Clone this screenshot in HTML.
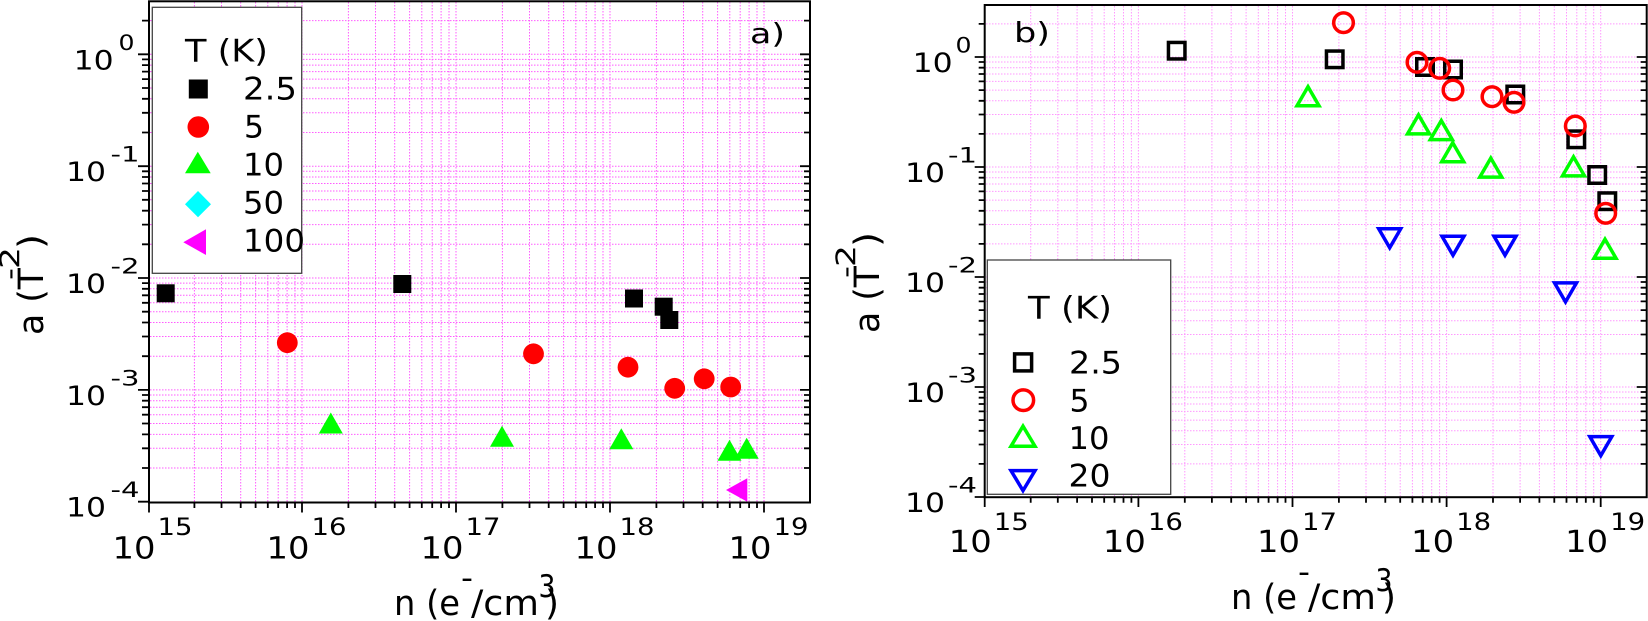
<!DOCTYPE html>
<html><head><meta charset="utf-8"><style>
html,body{margin:0;padding:0;background:#fff;}
svg{display:block;}
text{font-family:"DejaVu Sans","Liberation Sans",sans-serif;fill:#000;}
</style></head><body>
<svg width="1648" height="621" viewBox="0 0 1648 621" xmlns="http://www.w3.org/2000/svg">
<rect x="0" y="0" width="1648" height="621" fill="#fff"/>

<!-- LEFT GRID -->
<g stroke="#ff33ff" stroke-width="1" stroke-dasharray="1.5 1.5" fill="none" opacity="0.8">
<path d="M194.4 2V502M221.5 2V502M240.7 2V502M255.6 2V502M267.8 2V502M278.2 2V502M287.1 2V502M295 2V502M302 2V502M348.4 2V502M375.5 2V502M394.7 2V502M409.6 2V502M421.8 2V502M432.2 2V502M441.1 2V502M449 2V502M456 2V502M502.4 2V502M529.5 2V502M548.7 2V502M563.6 2V502M575.8 2V502M586.2 2V502M595.1 2V502M603 2V502M610 2V502M656.4 2V502M683.5 2V502M702.7 2V502M717.6 2V502M729.8 2V502M740.2 2V502M749.1 2V502M757 2V502M764 2V502"/>
<path d="M150 20.6H809M150 54.3H809M150 59.4H809M150 65.1H809M150 71.6H809M150 79.1H809M150 88H809M150 98.8H809M150 112.8H809M150 132.5H809M150 166.2H809M150 171.3H809M150 177H809M150 183.5H809M150 191H809M150 199.8H809M150 210.7H809M150 224.6H809M150 244.3H809M150 278H809M150 283.1H809M150 288.8H809M150 295.3H809M150 302.8H809M150 311.7H809M150 322.5H809M150 336.5H809M150 356.2H809M150 389.9H809M150 395H809M150 400.7H809M150 407.2H809M150 414.7H809M150 423.5H809M150 434.4H809M150 448.3H809M150 468H809"/>
</g>

<!-- RIGHT GRID -->
<g stroke="#ff55ff" stroke-width="1" stroke-dasharray="1.5 1.5" fill="none" opacity="0.6">
<path d="M1030.7 6V496M1057.8 6V496M1077.1 6V496M1092 6V496M1104.2 6V496M1114.5 6V496M1123.5 6V496M1131.4 6V496M1138.4 6V496M1184.8 6V496M1211.9 6V496M1231.2 6V496M1246.1 6V496M1258.3 6V496M1268.6 6V496M1277.6 6V496M1285.5 6V496M1292.5 6V496M1338.9 6V496M1366 6V496M1385.3 6V496M1400.2 6V496M1412.4 6V496M1422.7 6V496M1431.7 6V496M1439.6 6V496M1446.6 6V496M1493 6V496M1520.1 6V496M1539.4 6V496M1554.3 6V496M1566.5 6V496M1576.8 6V496M1585.8 6V496M1593.7 6V496M1600.7 6V496"/>
<path d="M986 23.9H1645M986 57H1645M986 62H1645M986 67.7H1645M986 74H1645M986 81.4H1645M986 90.1H1645M986 100.8H1645M986 114.5H1645M986 133.9H1645M986 167H1645M986 172H1645M986 177.7H1645M986 184H1645M986 191.4H1645M986 200.1H1645M986 210.8H1645M986 224.5H1645M986 243.9H1645M986 277H1645M986 282H1645M986 287.7H1645M986 294H1645M986 301.4H1645M986 310.1H1645M986 320.8H1645M986 334.5H1645M986 353.9H1645M986 387H1645M986 392H1645M986 397.7H1645M986 404H1645M986 411.4H1645M986 420.1H1645M986 430.8H1645M986 444.5H1645M986 463.9H1645"/>
</g>

<!-- LEGEND BOXES -->
<rect x="152.3" y="7.3" width="149.4" height="266" fill="#fff" stroke="#444" stroke-width="1.3"/>
<rect x="987.3" y="260" width="183.4" height="234.3" fill="#fff" stroke="#444" stroke-width="1.3"/>

<!-- LEFT FRAME & TICKS -->
<g stroke="#000" fill="none">
<rect x="149" y="1.3" width="661" height="501.2" stroke-width="2"/>
<path stroke-width="1.8" d="M138 54.3H148M138 166.2H148M138 278H148M138 389.9H148M138 501.7H148"/>
<path stroke-width="1.8" d="M142 20.6H148M142 59.4H148M142 65.1H148M142 71.6H148M142 79.1H148M142 88H148M142 98.8H148M142 112.8H148M142 132.5H148M142 171.3H148M142 177H148M142 183.5H148M142 191H148M142 199.8H148M142 210.7H148M142 224.6H148M142 244.3H148M142 283.1H148M142 288.8H148M142 295.3H148M142 302.8H148M142 311.7H148M142 322.5H148M142 336.5H148M142 356.2H148M142 395H148M142 400.7H148M142 407.2H148M142 414.7H148M142 423.5H148M142 434.4H148M142 448.3H148M142 468H148"/>
<path stroke-width="1.8" d="M800 54.3H810M800 166.2H810M800 278H810M800 389.9H810"/>
<path stroke-width="1.8" d="M804 20.6H810M804 59.4H810M804 65.1H810M804 71.6H810M804 79.1H810M804 88H810M804 98.8H810M804 112.8H810M804 132.5H810M804 171.3H810M804 177H810M804 183.5H810M804 191H810M804 199.8H810M804 210.7H810M804 224.6H810M804 244.3H810M804 283.1H810M804 288.8H810M804 295.3H810M804 302.8H810M804 311.7H810M804 322.5H810M804 336.5H810M804 356.2H810M804 395H810M804 400.7H810M804 407.2H810M804 414.7H810M804 423.5H810M804 434.4H810M804 448.3H810M804 468H810"/>
<path stroke-width="1.8" d="M149 502V512.5M302 502V512.5M456 502V512.5M610 502V512.5M764 502V512.5"/>
<path stroke-width="1.8" d="M194.4 502V508M221.5 502V508M240.7 502V508M255.6 502V508M267.8 502V508M278.2 502V508M287.1 502V508M295 502V508M348.4 502V508M375.5 502V508M394.7 502V508M409.6 502V508M421.8 502V508M432.2 502V508M441.1 502V508M449 502V508M502.4 502V508M529.5 502V508M548.7 502V508M563.6 502V508M575.8 502V508M586.2 502V508M595.1 502V508M603 502V508M656.4 502V508M683.5 502V508M702.7 502V508M717.6 502V508M729.8 502V508M740.2 502V508M749.1 502V508M757 502V508"/>
</g>

<!-- RIGHT FRAME & TICKS -->
<g stroke="#000" fill="none">
<rect x="984.7" y="5" width="662" height="492.2" stroke-width="2"/>
<path stroke-width="1.8" d="M974.7 57H985M974.7 167H985M974.7 277H985M974.7 387H985M974.7 497H985"/>
<path stroke-width="1.8" d="M978.7 23.9H985M978.7 62H985M978.7 67.7H985M978.7 74H985M978.7 81.4H985M978.7 90.1H985M978.7 100.8H985M978.7 114.5H985M978.7 133.9H985M978.7 172H985M978.7 177.7H985M978.7 184H985M978.7 191.4H985M978.7 200.1H985M978.7 210.8H985M978.7 224.5H985M978.7 243.9H985M978.7 282H985M978.7 287.7H985M978.7 294H985M978.7 301.4H985M978.7 310.1H985M978.7 320.8H985M978.7 334.5H985M978.7 353.9H985M978.7 392H985M978.7 397.7H985M978.7 404H985M978.7 411.4H985M978.7 420.1H985M978.7 430.8H985M978.7 444.5H985M978.7 463.9H985"/>
<path stroke-width="1.8" d="M1636.7 57H1647M1636.7 167H1647M1636.7 277H1647M1636.7 387H1647"/>
<path stroke-width="1.8" d="M1640.7 23.9H1647M1640.7 62H1647M1640.7 67.7H1647M1640.7 74H1647M1640.7 81.4H1647M1640.7 90.1H1647M1640.7 100.8H1647M1640.7 114.5H1647M1640.7 133.9H1647M1640.7 172H1647M1640.7 177.7H1647M1640.7 184H1647M1640.7 191.4H1647M1640.7 200.1H1647M1640.7 210.8H1647M1640.7 224.5H1647M1640.7 243.9H1647M1640.7 282H1647M1640.7 287.7H1647M1640.7 294H1647M1640.7 301.4H1647M1640.7 310.1H1647M1640.7 320.8H1647M1640.7 334.5H1647M1640.7 353.9H1647M1640.7 392H1647M1640.7 397.7H1647M1640.7 404H1647M1640.7 411.4H1647M1640.7 420.1H1647M1640.7 430.8H1647M1640.7 444.5H1647M1640.7 463.9H1647"/>
<path stroke-width="1.8" d="M984.7 497V507M1138.4 497V507M1292.5 497V507M1446.6 497V507M1600.7 497V507"/>
<path stroke-width="1.8" d="M1030.7 497V502.7M1057.8 497V502.7M1077.1 497V502.7M1092 497V502.7M1104.2 497V502.7M1114.5 497V502.7M1123.5 497V502.7M1131.4 497V502.7M1184.8 497V502.7M1211.9 497V502.7M1231.2 497V502.7M1246.1 497V502.7M1258.3 497V502.7M1268.6 497V502.7M1277.6 497V502.7M1285.5 497V502.7M1338.9 497V502.7M1366 497V502.7M1385.3 497V502.7M1400.2 497V502.7M1412.4 497V502.7M1422.7 497V502.7M1431.7 497V502.7M1439.6 497V502.7M1493 497V502.7M1520.1 497V502.7M1539.4 497V502.7M1554.3 497V502.7M1566.5 497V502.7M1576.8 497V502.7M1585.8 497V502.7M1593.7 497V502.7"/>
</g>

<!-- LEFT DATA -->
<g fill="#000">
<rect x="156.7" y="284.3" width="18" height="18"/>
<rect x="393.3" y="275" width="18" height="18"/>
<rect x="625" y="289.5" width="18" height="18"/>
<rect x="654.7" y="297.7" width="18" height="18"/>
<rect x="660.3" y="311" width="18" height="18"/>
</g>
<g fill="#ff0000">
<circle cx="287.3" cy="342.7" r="10.4"/>
<circle cx="533.5" cy="353.8" r="10.4"/>
<circle cx="628" cy="367.2" r="10.4"/>
<circle cx="674.7" cy="388.3" r="10.4"/>
<circle cx="704.2" cy="378.8" r="10.4"/>
<circle cx="730.7" cy="387" r="10.4"/>
</g>
<g fill="#00ff00">
<polygon points="318.8,433.5 342.8,433.5 330.8,412.5"/>
<polygon points="490,446.8 514,446.8 502,425.8"/>
<polygon points="609.3,449.3 633.3,449.3 621.3,428.3"/>
<polygon points="717.5,460.8 741.5,460.8 729.5,439.8"/>
<polygon points="734.7,458.7 758.7,458.7 746.7,437.7"/>
</g>
<polygon points="726,490 747.3,478.3 747.3,501.7" fill="#ff00ff"/>

<!-- RIGHT DATA -->
<g fill="none" stroke="#000" stroke-width="3.5">
<rect x="1168.45" y="42.45" width="16.5" height="16.5"/>
<rect x="1326.45" y="51.05" width="16.5" height="16.5"/>
<rect x="1416.75" y="58.75" width="16.5" height="16.5"/>
<rect x="1444.75" y="61.25" width="16.5" height="16.5"/>
<rect x="1507.05" y="86.25" width="16.5" height="16.5"/>
<rect x="1568.05" y="131.05" width="16.5" height="16.5"/>
<rect x="1588.95" y="166.75" width="16.5" height="16.5"/>
<rect x="1599.05" y="192.95" width="16.5" height="16.5"/>
</g>
<g fill="none" stroke="#ff0000" stroke-width="3.5">
<circle cx="1343.5" cy="22.7" r="9.8"/>
<circle cx="1417" cy="62.3" r="9.8"/>
<circle cx="1439.7" cy="68.3" r="9.8"/>
<circle cx="1453" cy="90" r="9.8"/>
<circle cx="1492" cy="96.7" r="9.8"/>
<circle cx="1514" cy="102.3" r="9.8"/>
<circle cx="1575.3" cy="126" r="9.8"/>
<circle cx="1605.7" cy="213.3" r="9.8"/>
</g>
<g fill="none" stroke="#00ff00" stroke-width="3.5">
<polygon points="1297,105.7 1319,105.7 1308,86.7"/>
<polygon points="1407.5,133.9 1429.5,133.9 1418.5,114.9"/>
<polygon points="1430.3,139.6 1452.3,139.6 1441.3,120.6"/>
<polygon points="1441.7,161.7 1463.7,161.7 1452.7,142.7"/>
<polygon points="1479.8,177.1 1501.8,177.1 1490.8,158.1"/>
<polygon points="1562.5,175.9 1584.5,175.9 1573.5,156.9"/>
<polygon points="1594,258.2 1616,258.2 1605,239.2"/>
</g>
<g fill="none" stroke="#0000ff" stroke-width="3.5">
<polygon points="1378.7,228.8 1400.7,228.8 1389.7,247.8"/>
<polygon points="1442,236.3 1464,236.3 1453,255.3"/>
<polygon points="1494,236.3 1516,236.3 1505,255.3"/>
<polygon points="1554.5,282.9 1576.5,282.9 1565.5,301.9"/>
<polygon points="1589.8,436.6 1611.8,436.6 1600.8,455.6"/>
</g>

<!-- LEFT LEGEND MARKERS -->
<rect x="188.8" y="79.5" width="19" height="19" fill="#000"/>
<circle cx="198.3" cy="127" r="10.8" fill="#ff0000"/>
<polygon points="185,173.3 210.7,173.3 197.8,151.7" fill="#00ff00"/>
<polygon points="198,191 211,204.2 198,217.3 185,204.2" fill="#00ffff"/>
<polygon points="183.3,242.2 206,229.3 206,255" fill="#ff00ff"/>

<!-- RIGHT LEGEND MARKERS -->
<rect x="1014.6" y="353.9" width="17" height="17" fill="none" stroke="#000" stroke-width="3.5"/>
<circle cx="1023.3" cy="400.2" r="10.3" fill="none" stroke="#ff0000" stroke-width="3.5"/>
<polygon points="1011,446.2 1035,446.2 1023,426.2" fill="none" stroke="#00ff00" stroke-width="3.5"/>
<polygon points="1011,470.6 1035,470.6 1023,490.6" fill="none" stroke="#0000ff" stroke-width="3.5"/>

<!-- LEGEND TEXT -->
<g font-size="31">
<text x="185" y="61.7" textLength="83" lengthAdjust="spacingAndGlyphs">T (K)</text>
<text x="243" y="99.3" textLength="54" lengthAdjust="spacingAndGlyphs">2.5</text>
<text x="244" y="137.3" textLength="20" lengthAdjust="spacingAndGlyphs">5</text>
<text x="243" y="175.7" textLength="41" lengthAdjust="spacingAndGlyphs">10</text>
<text x="243" y="213.3" textLength="41" lengthAdjust="spacingAndGlyphs">50</text>
<text x="243" y="251.7" textLength="62" lengthAdjust="spacingAndGlyphs">100</text>
<text x="1028" y="318.3" textLength="84" lengthAdjust="spacingAndGlyphs">T (K)</text>
<text x="1069" y="373.3" textLength="53" lengthAdjust="spacingAndGlyphs">2.5</text>
<text x="1069.5" y="411.7" textLength="20" lengthAdjust="spacingAndGlyphs">5</text>
<text x="1068.5" y="449" textLength="41" lengthAdjust="spacingAndGlyphs">10</text>
<text x="1068.5" y="486.7" textLength="42" lengthAdjust="spacingAndGlyphs">20</text>
</g>

<!-- PANEL LABELS -->
<text x="750" y="43" font-size="28" textLength="35" lengthAdjust="spacingAndGlyphs">a)</text>
<text x="1014" y="42" font-size="28" textLength="36" lengthAdjust="spacingAndGlyphs">b)</text>

<!-- LEFT Y TICK LABELS -->
<g font-size="27">
<text x="73.7" y="69.3" textLength="40" lengthAdjust="spacingAndGlyphs">10</text>
<text x="66" y="181.2" textLength="40" lengthAdjust="spacingAndGlyphs">10</text>
<text x="66" y="293" textLength="40" lengthAdjust="spacingAndGlyphs">10</text>
<text x="66" y="404.9" textLength="40" lengthAdjust="spacingAndGlyphs">10</text>
<text x="66" y="516.7" textLength="40" lengthAdjust="spacingAndGlyphs">10</text>
<text x="912.7" y="72" textLength="40" lengthAdjust="spacingAndGlyphs">10</text>
<text x="905" y="182" textLength="40" lengthAdjust="spacingAndGlyphs">10</text>
<text x="905" y="292" textLength="40" lengthAdjust="spacingAndGlyphs">10</text>
<text x="905" y="402" textLength="40" lengthAdjust="spacingAndGlyphs">10</text>
<text x="905" y="512" textLength="40" lengthAdjust="spacingAndGlyphs">10</text>
</g>
<g font-size="21">
<text x="118.5" y="49.8" textLength="16" lengthAdjust="spacingAndGlyphs">0</text>
<text x="110.5" y="161.7" textLength="29" lengthAdjust="spacingAndGlyphs">-1</text>
<text x="110.5" y="273.5" textLength="29" lengthAdjust="spacingAndGlyphs">-2</text>
<text x="110.5" y="385.4" textLength="29" lengthAdjust="spacingAndGlyphs">-3</text>
<text x="110.5" y="497.2" textLength="29" lengthAdjust="spacingAndGlyphs">-4</text>
<text x="955.5" y="52.5" textLength="16" lengthAdjust="spacingAndGlyphs">0</text>
<text x="948" y="162.5" textLength="29" lengthAdjust="spacingAndGlyphs">-1</text>
<text x="948" y="272.5" textLength="29" lengthAdjust="spacingAndGlyphs">-2</text>
<text x="948" y="382.5" textLength="29" lengthAdjust="spacingAndGlyphs">-3</text>
<text x="948" y="492.5" textLength="29" lengthAdjust="spacingAndGlyphs">-4</text>
</g>

<!-- X TICK LABELS -->
<g font-size="30">
<text x="112.5" y="558.3" textLength="43" lengthAdjust="spacingAndGlyphs">10</text>
<text x="266.5" y="558.3" textLength="43" lengthAdjust="spacingAndGlyphs">10</text>
<text x="420.5" y="558.3" textLength="43" lengthAdjust="spacingAndGlyphs">10</text>
<text x="574.5" y="558.3" textLength="43" lengthAdjust="spacingAndGlyphs">10</text>
<text x="728.5" y="558.3" textLength="43" lengthAdjust="spacingAndGlyphs">10</text>
<text x="948.8" y="552" textLength="43" lengthAdjust="spacingAndGlyphs">10</text>
<text x="1102.9" y="552" textLength="43" lengthAdjust="spacingAndGlyphs">10</text>
<text x="1257" y="552" textLength="43" lengthAdjust="spacingAndGlyphs">10</text>
<text x="1411.1" y="552" textLength="43" lengthAdjust="spacingAndGlyphs">10</text>
<text x="1565.2" y="552" textLength="43" lengthAdjust="spacingAndGlyphs">10</text>
</g>
<g font-size="24">
<text x="157.5" y="535" textLength="35" lengthAdjust="spacingAndGlyphs">15</text>
<text x="311.5" y="535" textLength="35" lengthAdjust="spacingAndGlyphs">16</text>
<text x="465.5" y="535" textLength="35" lengthAdjust="spacingAndGlyphs">17</text>
<text x="619.5" y="535" textLength="35" lengthAdjust="spacingAndGlyphs">18</text>
<text x="773.5" y="535" textLength="35" lengthAdjust="spacingAndGlyphs">19</text>
<text x="993.8" y="530" textLength="35" lengthAdjust="spacingAndGlyphs">15</text>
<text x="1147.9" y="530" textLength="35" lengthAdjust="spacingAndGlyphs">16</text>
<text x="1302" y="530" textLength="35" lengthAdjust="spacingAndGlyphs">17</text>
<text x="1456.1" y="530" textLength="35" lengthAdjust="spacingAndGlyphs">18</text>
<text x="1610.2" y="530" textLength="35" lengthAdjust="spacingAndGlyphs">19</text>
</g>

<!-- X AXIS LABELS -->
<text x="394" y="615" font-size="35" textLength="66" lengthAdjust="spacingAndGlyphs">n (e</text>
<text x="461" y="588" font-size="30" textLength="12" lengthAdjust="spacingAndGlyphs">-</text>
<text x="471" y="615" font-size="35" textLength="68" lengthAdjust="spacingAndGlyphs">/cm</text>
<text x="538.5" y="597" font-size="31" textLength="17" lengthAdjust="spacingAndGlyphs">3</text>
<text x="545" y="615" font-size="35" textLength="14" lengthAdjust="spacingAndGlyphs">)</text>

<text x="1231" y="609" font-size="35" textLength="66" lengthAdjust="spacingAndGlyphs">n (e</text>
<text x="1298" y="582" font-size="30" textLength="12" lengthAdjust="spacingAndGlyphs">-</text>
<text x="1308" y="609" font-size="35" textLength="68" lengthAdjust="spacingAndGlyphs">/cm</text>
<text x="1375.5" y="591" font-size="31" textLength="17" lengthAdjust="spacingAndGlyphs">3</text>
<text x="1382" y="609" font-size="35" textLength="14" lengthAdjust="spacingAndGlyphs">)</text>

<!-- Y AXIS LABELS -->
<g transform="translate(43,333) rotate(-90)">
<text x="-2" y="0" font-size="35" textLength="67" lengthAdjust="spacingAndGlyphs">a (T</text>
<text x="53" y="-24" font-size="27" textLength="12" lengthAdjust="spacingAndGlyphs">-</text>
<text x="64" y="-24" font-size="27" textLength="22" lengthAdjust="spacingAndGlyphs">2</text>
<text x="84" y="0" font-size="35" textLength="15" lengthAdjust="spacingAndGlyphs">)</text>
</g>
<g transform="translate(879,331) rotate(-90)">
<text x="-2" y="0" font-size="35" textLength="67" lengthAdjust="spacingAndGlyphs">a (T</text>
<text x="53" y="-24" font-size="27" textLength="12" lengthAdjust="spacingAndGlyphs">-</text>
<text x="64" y="-24" font-size="27" textLength="22" lengthAdjust="spacingAndGlyphs">2</text>
<text x="84" y="0" font-size="35" textLength="15" lengthAdjust="spacingAndGlyphs">)</text>
</g>
</svg>
</body></html>
